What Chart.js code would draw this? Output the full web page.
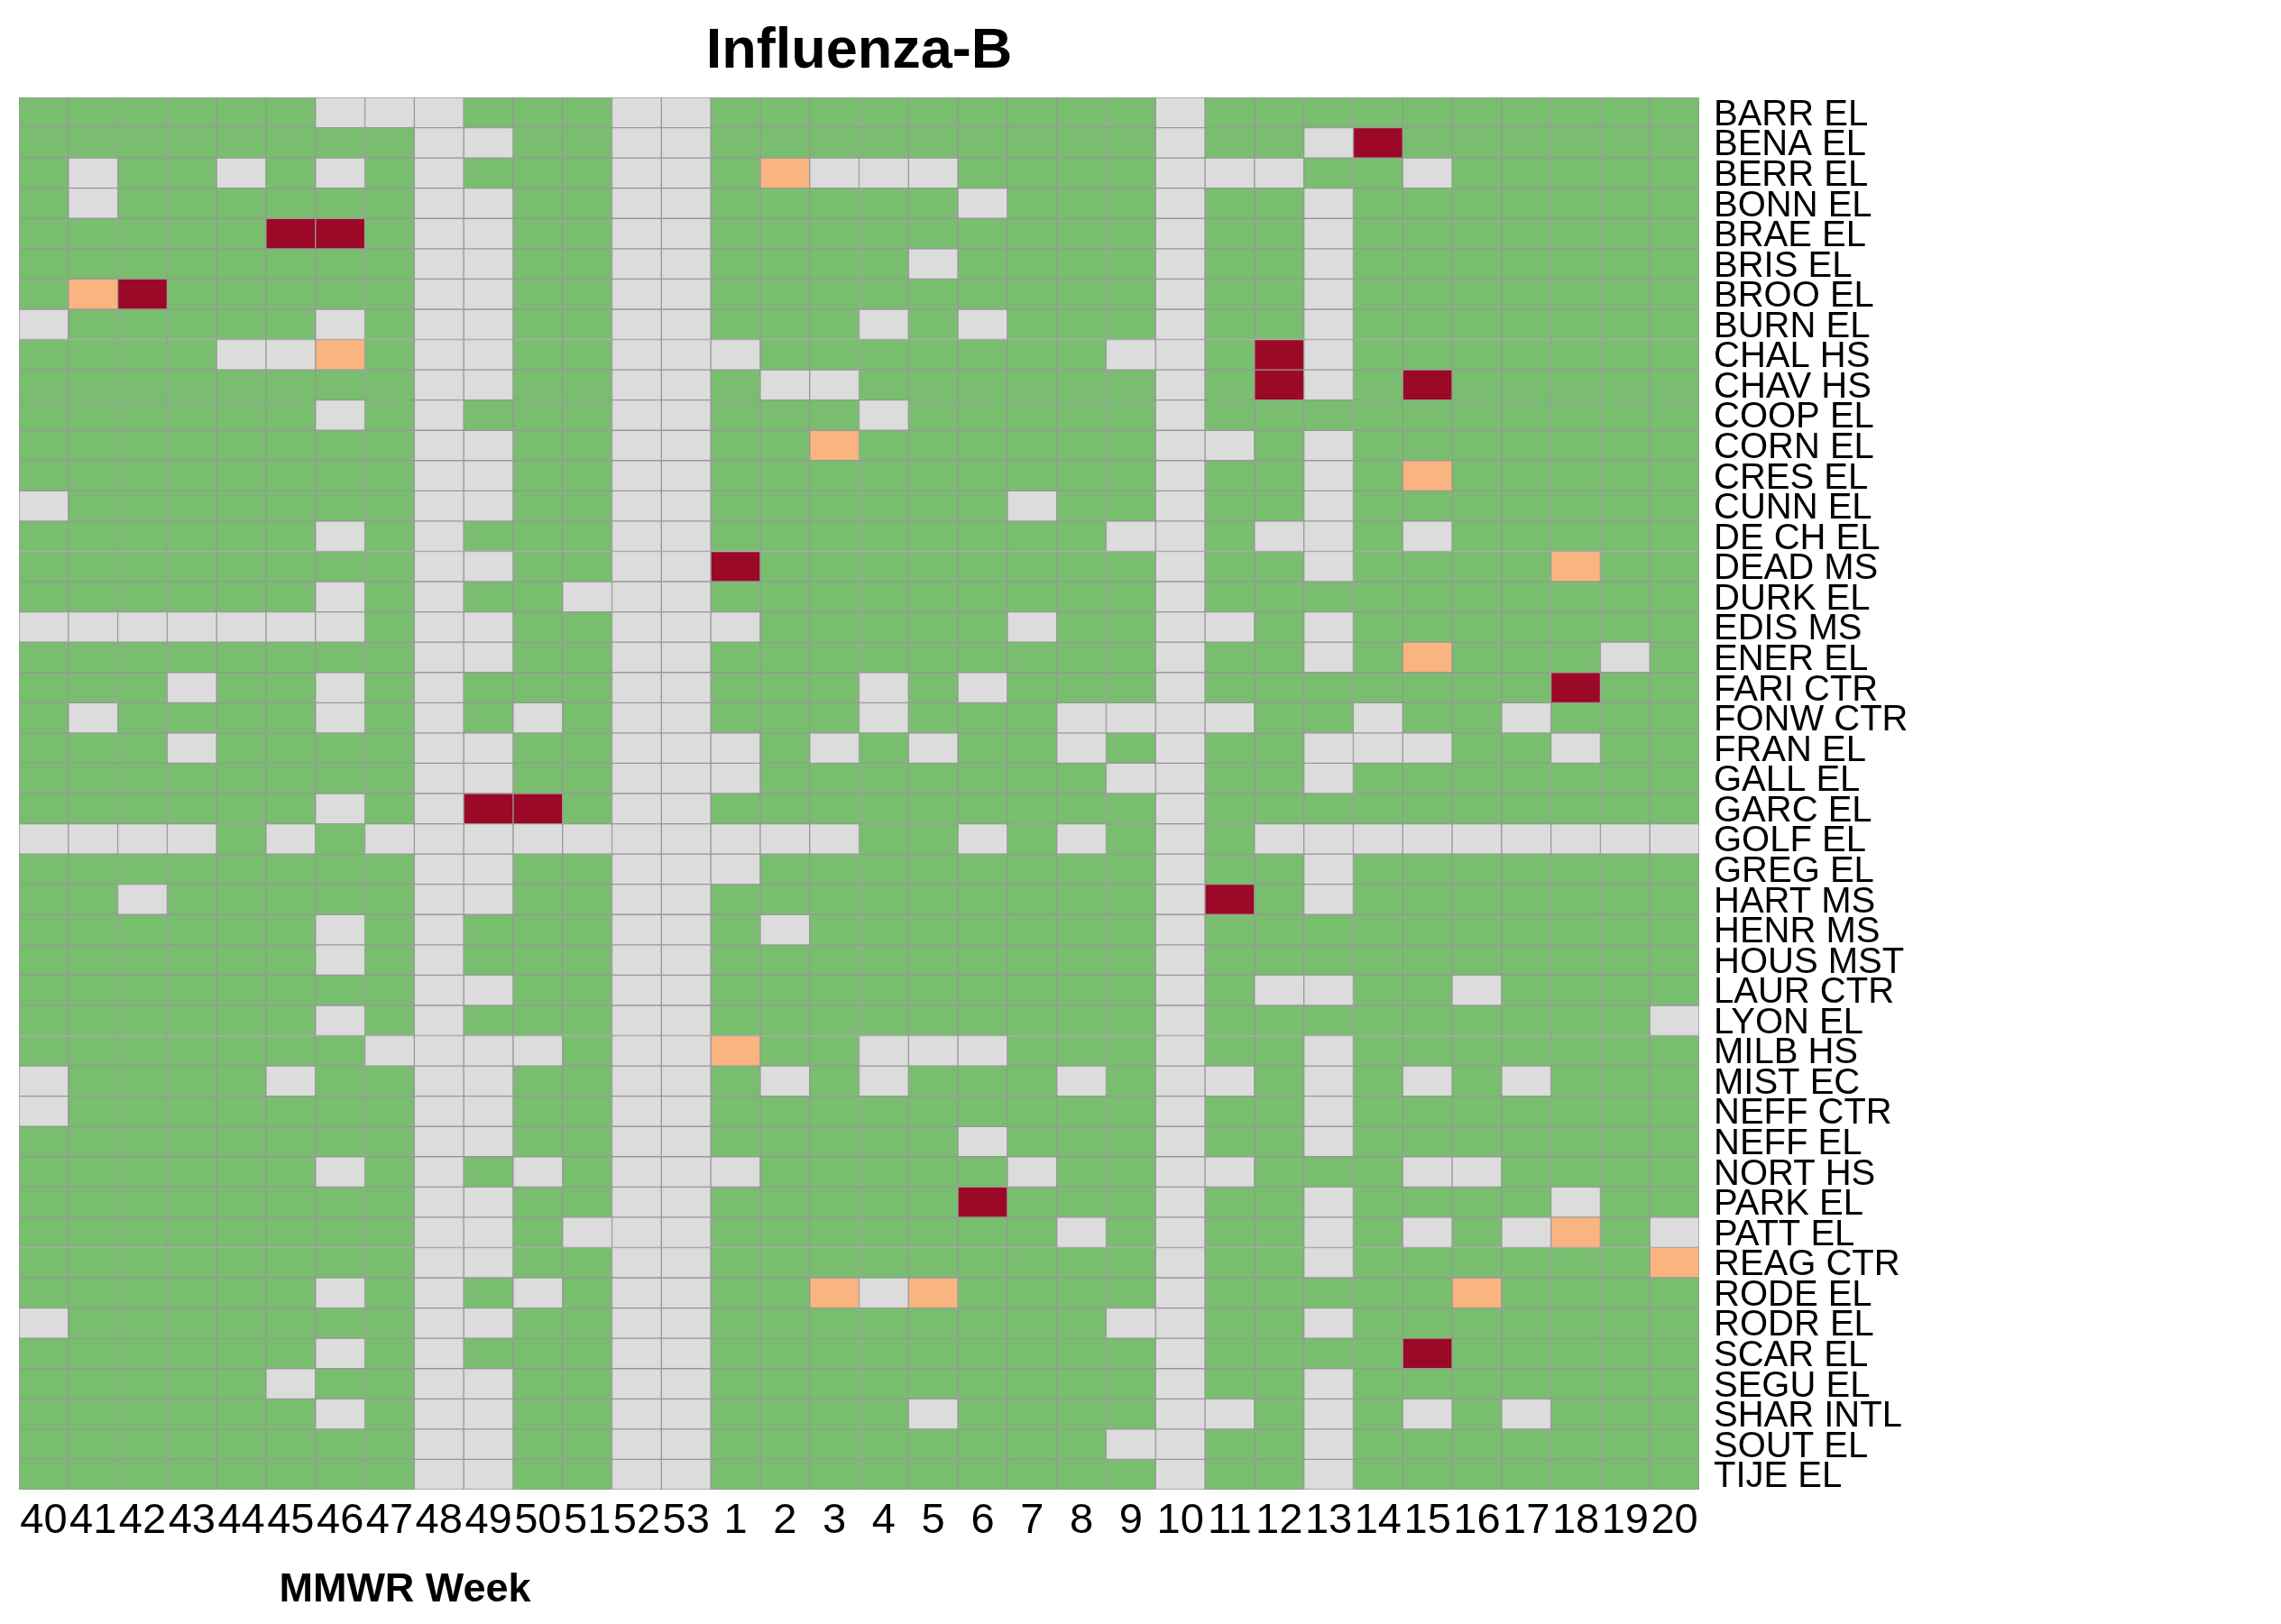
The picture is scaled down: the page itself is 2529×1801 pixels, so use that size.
<!DOCTYPE html>
<html>
<head>
<meta charset="utf-8">
<title>Influenza-B</title>
<script src="https://cdn.jsdelivr.net/npm/chart.js@4.4.1/dist/chart.umd.min.js"></script>
<style>
  html, body { margin: 0; padding: 0; background: #fff; }
  canvas { display: block; }
</style>
</head>
<body>
<canvas id="heatmap" width="2529" height="1801"></canvas>
<script>
const weeks = ['40', '41', '42', '43', '44', '45', '46', '47', '48', '49', '50', '51', '52', '53',
    '1', '2', '3', '4', '5', '6', '7', '8', '9', '10', '11', '12', '13', '14', '15', '16', '17', '18', '19', '20'];

const schools = ['BARR EL', 'BENA EL', 'BERR EL', 'BONN EL', 'BRAE EL', 'BRIS EL', 'BROO EL', 'BURN EL',
    'CHAL HS', 'CHAV HS', 'COOP EL', 'CORN EL', 'CRES EL', 'CUNN EL', 'DE CH EL', 'DEAD MS', 'DURK EL',
    'EDIS MS', 'ENER EL', 'FARI CTR', 'FONW CTR', 'FRAN EL', 'GALL EL', 'GARC EL', 'GOLF EL', 'GREG EL',
    'HART MS', 'HENR MS', 'HOUS MST', 'LAUR CTR', 'LYON EL', 'MILB HS', 'MIST EC', 'NEFF CTR', 'NEFF EL',
    'NORT HS', 'PARK EL', 'PATT EL', 'REAG CTR', 'RODE EL', 'RODR EL', 'SCAR EL', 'SEGU EL', 'SHAR INTL',
    'SOUT EL', 'TIJE EL'];

// one string per school, one letter per week (weeks 40-53, then 1-20)
// g = normal, m = no report, o = elevated, r = high
const weekStatus = [
    'ggggggmmmgggmm gggggggggmgggggggggg', // BARR
    'ggggggggmmggmm gggggggggmggmrgggggg', // BENA
    'gmggmgmgmgggmm gommmggggmmmggmggggg', // BERR
    'gmggggggmmggmm gggggmgggmggmggggggg', // BONN
    'gggggrrgmmggmm gggggggggmggmggggggg', // BRAE
    'ggggggggmmggmm ggggmggggmggmggggggg', // BRIS
    'gorgggggmmggmm gggggggggmggmggggggg', // BROO
    'mgggggmgmmggmm gggmgmgggmggmggggggg', // BURN
    'ggggmmogmmggmm mgggggggmmgrmggggggg', // CHAL
    'ggggggggmmggmm gmmggggggmgrmgrggggg', // CHAV
    'ggggggmgmgggmm gggmgggggmgggggggggg', // COOP
    'ggggggggmmggmm ggoggggggmmgmggggggg', // CORN
    'ggggggggmmggmm gggggggggmggmgoggggg', // CRES
    'mgggggggmmggmm ggggggmggmggmggggggg', // CUNN
    'ggggggmgmgggmm ggggggggmmgmmgmggggg', // DE CH
    'ggggggggmmggmm rggggggggmggmggggogg', // DEAD
    'ggggggmgmggmmm gggggggggmgggggggggg', // DURK
    'mmmmmmmgmmggmm mgggggmggmmgmggggggg', // EDIS
    'ggggggggmmggmm gggggggggmggmgogggmg', // ENER
    'gggmggmgmgggmm gggmgmgggmgggggggrgg', // FARI
    'gmggggmgmgmgmm gggmgggmmmmggmggmggg', // FONW
    'gggmggggmmggmm mgmgmggmgmggmmmggmgg', // FRAN
    'ggggggggmmggmm mgggggggmmggmggggggg', // GALL
    'ggggggmgmrrgmm gggggggggmgggggggggg', // GARC
    'mmmmgmgmmmmmmm mmmggmgmgmgmmmmmmmmm', // GOLF
    'ggggggggmmggmm mggggggggmggmggggggg', // GREG
    'ggmgggggmmggmm gggggggggmrgmggggggg', // HART
    'ggggggmgmgggmm gmgggggggmgggggggggg', // HENR
    'ggggggmgmgggmm gggggggggmgggggggggg', // HOUS
    'ggggggggmmggmm gggggggggmgmmggmgggg', // LAUR
    'ggggggmgmgggmm gggggggggmgggggggggm', // LYON
    'gggggggmmmmgmm oggmmmgggmggmggggggg', // MILB
    'mggggmggmmggmm gmgmgggmgmmgmgmgmggg', // MIST
    'mgggggggmmggmm gggggggggmggmggggggg', // NEFF CTR
    'ggggggggmmggmm gggggmgggmggmggggggg', // NEFF EL
    'ggggggmgmgmgmm mgggggmggmmgggmmgggg', // NORT
    'ggggggggmmggmm gggggrgggmggmggggmgg', // PARK
    'ggggggggmmgmmm gggggggmgmggmgmgmogm', // PATT
    'ggggggggmmggmm gggggggggmggmggggggo', // REAG
    'ggggggmgmgmgmm ggomoggggmgggggogggg', // RODE
    'mgggggggmmggmm ggggggggmmggmggggggg', // RODR
    'ggggggmgmgggmm gggggggggmggggrggggg', // SCAR
    'gggggmggmmggmm gggggggggmggmggggggg', // SEGU
    'ggggggmgmmggmm ggggmggggmmgmgmgmggg', // SHAR
    'ggggggggmmggmm ggggggggmmggmggggggg', // SOUT
    'ggggggggmmggmm gggggggggmggmggggggg'  // TIJE
];

const statusColors = {
    g: 'rgb(121, 190, 111)',
    m: 'rgb(220, 220, 220)',
    o: 'rgb(249, 180, 127)',
    r: 'rgb(155, 9, 39)'
};

const fontFamily = '"Liberation Sans", Arial, sans-serif';

// each school is one stacked dataset, one unit tall per week
function buildDatasets() {
    return schools.map((school, i) => {
        const codes = weekStatus[i].replace(' ', '').split('');
        return {
            label: school,
            data: weeks.map(() => 1),
            backgroundColor: codes.map(c => statusColors[c]),
            borderColor: 'rgb(152, 152, 152)',
            borderWidth: 1,
            borderSkipped: false,
            barPercentage: 1,
            categoryPercentage: 1
        };
    });
}

// title and x axis name
const textPlugin = {
    id: 'textPlugin',
    afterDraw(chart) {
        const ctx = chart.ctx;
        const area = chart.chartArea;
        ctx.save();
        ctx.fillStyle = '#000';
        ctx.textAlign = 'center';
        ctx.textBaseline = 'alphabetic';
        ctx.font = `bold 63px ${fontFamily}`;
        ctx.fillText('Influenza-B', (area.left + area.right) / 2, 75);
        ctx.font = `bold 45px ${fontFamily}`;
        ctx.fillText('MMWR Week', 449, 1776);
        ctx.restore();
    }
};

new Chart(document.getElementById('heatmap'), {
    type: 'bar',
    data: {
        labels: weeks,
        datasets: buildDatasets()
    },
    options: {
        responsive: false,
        animation: false,
        layout: { padding: { left: 21, top: 108, right: 0, bottom: 0 } },
        plugins: {
            legend: { display: false },
            tooltip: { enabled: false }
        },
        scales: {
            x: {
                stacked: true,
                grid: { display: false, drawTicks: false },
                border: { display: false },
                ticks: {
                    color: '#000',
                    font: { family: fontFamily, size: 47 },
                    padding: 7,
                    maxRotation: 0,
                    minRotation: 0,
                    autoSkip: false
                },
                afterFit: scale => { scale.height = 149; }
            },
            y: {
                stacked: true,
                reverse: true,
                min: 0,
                max: schools.length,
                display: false
            },
            y2: {
                type: 'category',
                labels: schools,
                position: 'right',
                offset: true,
                grid: { display: false, drawTicks: false },
                border: { display: false },
                ticks: {
                    color: '#000',
                    font: { family: fontFamily, size: 40 },
                    padding: 16,
                    labelOffset: 3,
                    autoSkip: false
                },
                afterFit: scale => { scale.width = 645; }
            }
        }
    },
    plugins: [textPlugin]
});
</script>
</body>
</html>
